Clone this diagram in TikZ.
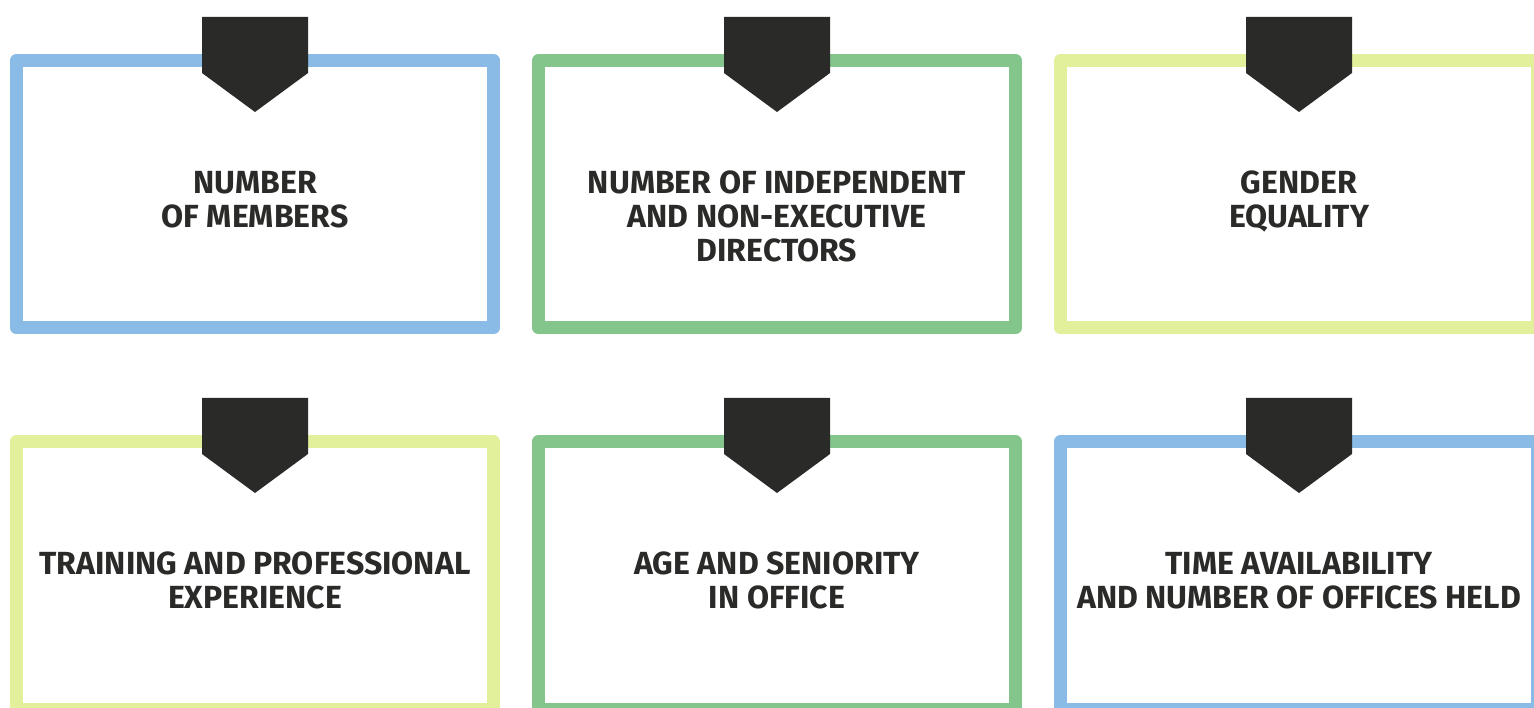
\documentclass[tikz,border=0pt]{standalone}
\usepackage{fontspec}
\usepackage{tikz}
\usetikzlibrary{positioning,calc}
\newfontfamily\cardfont{Fira Sans}
\definecolor{ink}      {HTML}{2A2A28}
\definecolor{cardblue} {HTML}{89BBE6}
\definecolor{cardgreen}{HTML}{84C58C}
\definecolor{cardlime} {HTML}{E2F09C}

\begin{document}
\begin{tikzpicture}[x=1pt,y=-1pt,
    card/.style={draw=#1,line width=13pt,line join=round,inner sep=0pt,
      outer sep=0pt,minimum width=477pt,minimum height=267.5pt},
    badge/.style={fill=ink},
    cardtext/.style={font=\cardfont\bfseries\fontsize{32}{34}\selectfont,
      text=ink,align=center,inner sep=0pt,anchor=north}]
  \useasboundingbox[fill=white] (0,0) rectangle (1534,708);
  % six cards, two rows of three
  \foreach \n/\cx/\cy/\col/\txt in {
      1/255/194.25/cardblue/{NUMBER\\OF MEMBERS},
      2/777/194.25/cardgreen/{NUMBER OF INDEPENDENT\\AND NON-EXECUTIVE\\DIRECTORS},
      3/1299/194.25/cardlime/{GENDER\\EQUALITY},
      4/255/575.25/cardlime/{TRAINING AND PROFESSIONAL\\EXPERIENCE},
      5/777/575.25/cardgreen/{AGE AND SENIORITY\\IN OFFICE},
      6/1299/575.25/cardblue/{TIME AVAILABILITY\\AND NUMBER OF OFFICES HELD}} {
    \node[card=\col] (c\n) at (\cx,\cy) {};
    \fill[badge] ($(c\n.north)+(-53,-43.5)$) -- ($(c\n.north)+(53,-43.5)$)
      -- ($(c\n.north)+(53,12.5)$) -- ($(c\n.north)+(0,51.5)$)
      -- ($(c\n.north)+(-53,12.5)$) -- cycle;
    \node[cardtext,below=110.5pt of c\n.north] (t\n) {\txt};
  }
\end{tikzpicture}
\end{document}
